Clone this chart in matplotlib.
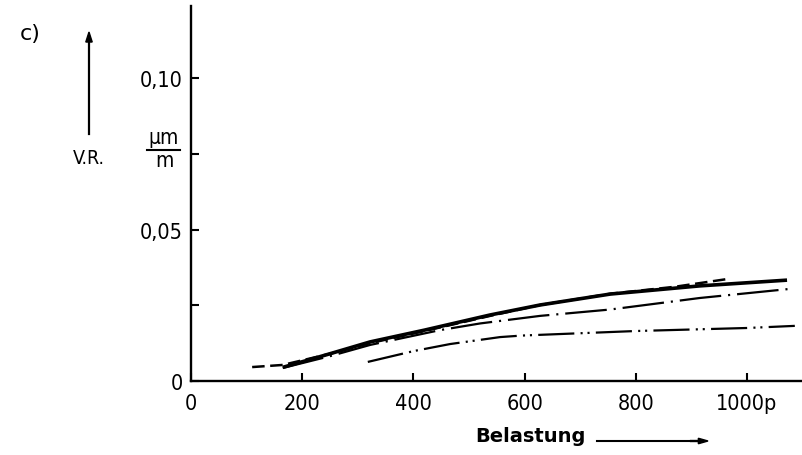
import matplotlib
matplotlib.use("Agg")
import matplotlib.pyplot as plt
from matplotlib.lines import Line2D
from matplotlib.patches import FancyArrow

plt.rcParams['font.family'] = ['DejaVu Sans']
plt.rcParams['font.stretch'] = 'condensed'
plt.rcParams['lines.scale_dashes'] = False

# ---- data ----
solid_x = [165, 250, 322, 420, 538, 628, 754, 915, 1072]
solid_y = [0.0045, 0.0090, 0.0129, 0.0168, 0.0218, 0.0251, 0.0287, 0.0314, 0.0333]

dashed_x = [110, 165, 250, 322, 420, 538, 628, 754, 870, 966]
dashed_y = [0.0046, 0.0053, 0.0090, 0.0125, 0.0165, 0.0215, 0.0251, 0.0288, 0.0311, 0.0337]

dashdot_x = [165, 250, 322, 448, 520, 628, 754, 915, 1077]
dashdot_y = [0.0043, 0.0082, 0.0119, 0.0168, 0.0190, 0.0215, 0.0236, 0.0274, 0.0304]

dashdotdot_x = [318, 401, 466, 556, 595, 800, 1000, 1086]
dashdotdot_y = [0.0063, 0.0099, 0.0122, 0.0145, 0.0150, 0.0165, 0.0175, 0.0182]

x_ticks = [0, 200, 400, 600, 800, 1000]
x_tick_labels = ["0", "200", "400", "600", "800", "1000p"]
y_ticks = [0, 0.025, 0.05, 0.075, 0.10]
y_tick_labels = ["0", "", "0,05", "", "0,10"]

# ---- figure ----
fig = plt.figure(figsize=(8.03, 4.56), dpi=100)
ax = fig.add_axes([191/803, 1-382/456, (802.6-191)/803, (382-7)/456])
ax.set_xlim(0, 1100)
ax.set_ylim(0, 0.1238)

k = 'black'
ax.plot(solid_x, solid_y, color=k, lw=2.6, solid_capstyle='butt')
ax.plot(dashed_x, dashed_y, color=k, lw=1.8, dashes=(9, 4))
ax.plot(dashdot_x, dashdot_y, color=k, lw=1.6, dashes=(30, 5, 1.5, 5))
ax.plot(dashdotdot_x, dashdotdot_y, color=k, lw=1.6, dashes=(26, 4.5, 1.5, 3.5, 1.5, 4.5))

for s in ['top', 'right']:
    ax.spines[s].set_visible(False)
for s in ['left', 'bottom']:
    ax.spines[s].set_linewidth(1.7)

ax.set_xticks(x_ticks)
ax.set_xticklabels(x_tick_labels)
ax.set_yticks(y_ticks)
ax.set_yticklabels(y_tick_labels)
ax.tick_params(direction='in', length=5.5, width=1.5, labelsize=15.5, color=k)
ax.tick_params(axis='x', pad=9)
ax.tick_params(axis='y', pad=6)

def fx(px):
    return px / 803
def fy(py):
    return 1 - py / 456

fig.text(fx(20), fy(34), "c)", fontsize=16, fontstretch='normal', va='center', ha='left')

# V.R. arrow
fig.add_artist(Line2D([fx(89), fx(89)], [fy(135), fy(40)], color=k, lw=1.6))
fig.patches.append(FancyArrow(fx(89), fy(45), 0, fy(33)-fy(45),
                   width=0.0008, head_width=0.008, head_length=0.022,
                   length_includes_head=True, color=k, transform=fig.transFigure, figure=fig))
fig.text(fx(89), fy(159), "V.R.", fontsize=14, ha='center', va='center')

# µm / m
fig.text(fx(163.5), fy(138), "µm", fontsize=15, ha='center', va='center')
fig.add_artist(Line2D([fx(147), fx(180)], [fy(151), fy(151)], color=k, lw=1.5))
fig.text(fx(164), fy(161), "m", fontsize=15, ha='center', va='center')

# Belastung with arrow
fig.text(fx(475), fy(437), "Belastung", fontsize=14, fontweight='bold', fontstretch='normal',
         ha='left', va='center')
fig.add_artist(Line2D([fx(597), fx(700)], [fy(442), fy(442)], color=k, lw=1.5))
fig.patches.append(FancyArrow(fx(690), fy(442), fx(18), 0,
                   width=0.002, head_width=0.012, head_length=0.012,
                   length_includes_head=True, color=k, transform=fig.transFigure, figure=fig))

fig.savefig("out.png", dpi=100)
